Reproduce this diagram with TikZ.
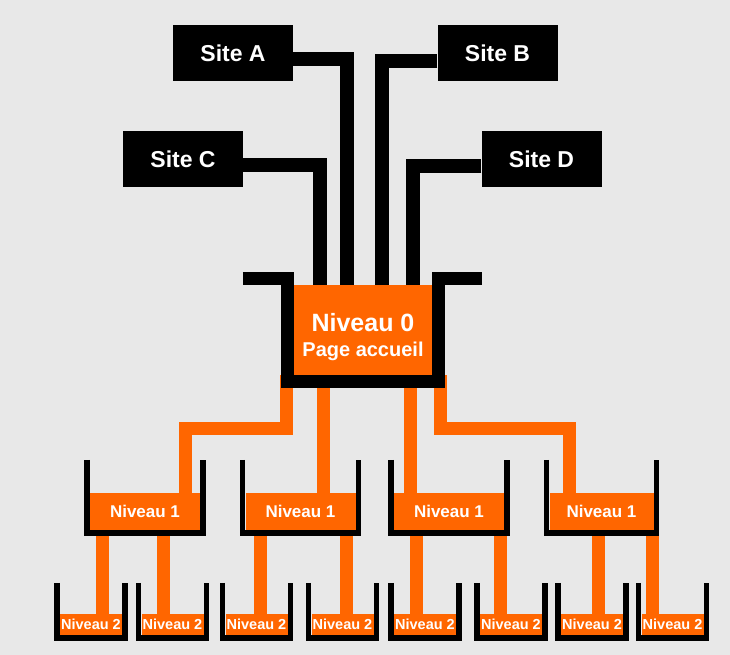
\documentclass[tikz,border=0pt]{standalone}
\usepackage{fontspec}
\setmainfont{Liberation Sans}
\usetikzlibrary{calc,positioning}
\definecolor{bg}{HTML}{E8E8E8}
\definecolor{orng}{HTML}{FF6600}

\begin{document}
\begin{tikzpicture}[x=1pt, y=-1pt, site/.style={fill=black, text=white, font=\bfseries\fontsize{23}{26}\selectfont, minimum width=120pt, minimum height=56pt, inner sep=0pt}]
\tikzstyle{lvl}=[fill=orng, text=white, inner sep=0pt]
\tikzstyle{wire}=[black, line width=14pt]
\tikzstyle{feed}=[orng, line width=13pt]
\tikzstyle{wall}=[black, line width=5.5pt]
\fill[bg] (0,0) rectangle (730,655);
\useasboundingbox (0,0) rectangle (730,655);
% sites
\node[site] (a) at (233,53) {Site A};
\node[site] (b) at (497.5,53) {Site B};
\node[site] (c) at (183,159) {Site C};
\node[site] (d) at (541.5,159) {Site D};
% levels
\node[lvl, minimum width=138pt, minimum height=90pt, align=center, font=\bfseries\fontsize{25}{25}\selectfont] (n0) at (363,330) {\rule{0pt}{32pt}Niveau 0\\{\fontsize{20}{24}\selectfont Page accueil}};
\foreach \n/\x/\w in {n1a/145/110,n1b/300.5/110,n1c/449/110,n1d/601.5/104}{\node[lvl, minimum width=\w pt, minimum height=37pt, font=\bfseries\fontsize{17}{20}\selectfont] (\n) at (\x,511.5) {Niveau 1};}
\foreach \n/\x in {n2a/91,n2b/172.5,n2c/256.5,n2d/342.5,n2e/425,n2f/511,n2g/592,n2h/672.5}{\node[lvl, minimum width=62pt, minimum height=21pt, font=\bfseries\fontsize{14.5}{16}\selectfont] (\n) at (\x,624.5) {Niveau 2};}
% links
\foreach \s/\dy/\dx in {a.east/-6/-16,b.west/-8/19,c.east/-6/-43,d.west/-7/50}{\draw[wire] ([yshift=\dy pt]\s) -| ([xshift=\dx pt]n0.north);}
\draw[feed] ([xshift=-77pt]n0.south) -- ++(0,53) -| ([xshift=40pt]n1a.north);
\draw[feed] ([xshift=-40pt]n0.south) -- ([xshift=-40pt]n0.south |- n1b.north);
\draw[feed] ([xshift=47pt]n0.south) -- ([xshift=47pt]n0.south |- n1c.north);
\draw[feed] ([xshift=77pt]n0.south) -- ++(0,53) -| ([xshift=-32.5pt]n1d.north);
\foreach \t/\f/\dx in {n2a/n1a/11,n2b/n1a/-9.5,n2c/n1b/3.5,n2d/n1b/3.5,n2e/n1c/-9,n2f/n1c/-11,n2g/n1d/6,n2h/n1d/-20.5}{\draw[feed] ([xshift=\dx pt]\t.north) -- ([xshift=\dx pt]\t.north |- \f.south);}
% buckets
\draw[black, line width=13pt] ($(n0.north west)+(-51,-6.5)$) -- ($(n0.north west)+(-6.5,-6.5)$) -- ($(n0.south west)+(-6.5,6.5)$) -- ($(n0.south east)+(6.5,6.5)$) -- ($(n0.north east)+(6.5,-6.5)$) -- ($(n0.north east)+(50,-6.5)$);
\foreach \n in {n1a,n1b,n1c,n1d}{\draw[wall] ($(\n.north west)+(-2.75,-33)$) -- ($(\n.south west)+(-2.75,2.75)$) -- ($(\n.south east)+(2.75,2.75)$) -- ($(\n.north east)+(2.75,-33)$);}
\foreach \n in {n2a,n2b,n2c,n2d,n2e,n2f,n2g,n2h}{\draw[wall] ($(\n.north west)+(-2.75,-31)$) -- ($(\n.south west)+(-2.75,2.9)$) -- ($(\n.south east)+(2.75,2.9)$) -- ($(\n.north east)+(2.75,-31)$);}
\end{tikzpicture}
\end{document}
